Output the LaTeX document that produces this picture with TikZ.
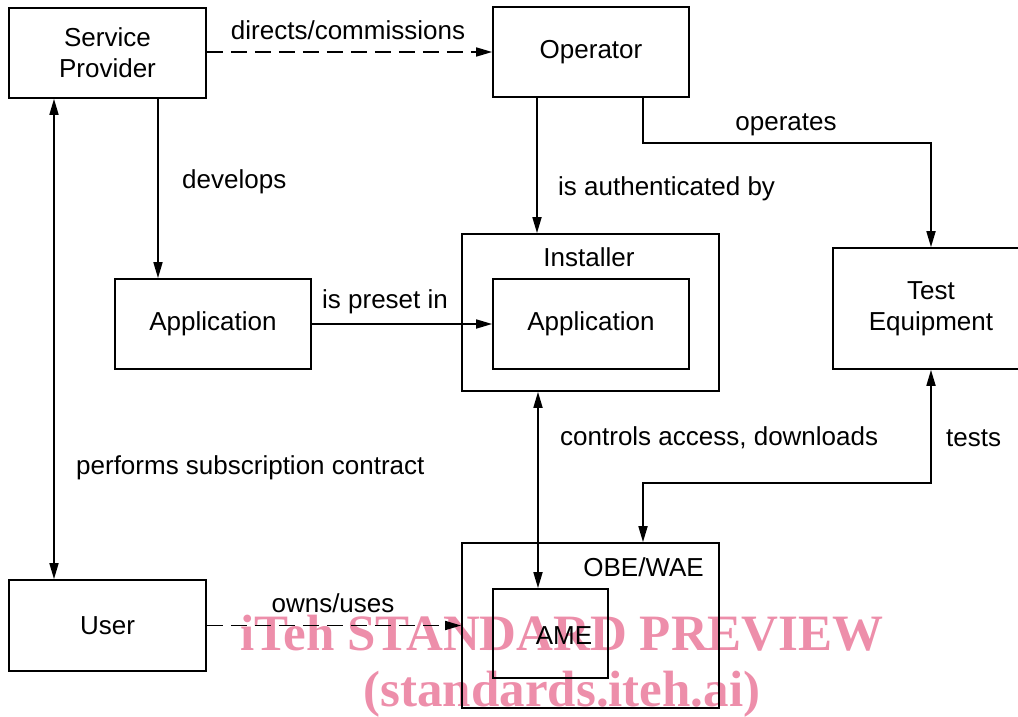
\documentclass[tikz,border=0pt]{standalone}
\usepackage{fontspec}
\setmainfont{Liberation Sans}
\newfontfamily\wmfont{Liberation Serif}
\usetikzlibrary{arrows.meta}
\definecolor{wmpink}{RGB}{237,142,170}
\tikzset{
  box/.style={draw, line width=1.7pt, inner sep=0pt, align=center, font=\fontsize{26}{31}\selectfont},
  lbl/.style={inner sep=0pt, font=\fontsize{26}{31}\selectfont},
  conn/.style={line width=1.7pt, -{Triangle[length=16pt,width=9pt]}},
  conn2/.style={line width=1.7pt, {Triangle[length=16pt,width=9pt]}-{Triangle[length=16pt,width=9pt]}},
  dconn/.style={conn, dash pattern=on 16pt off 8pt},
  wm/.style={inner sep=0pt, text=wmpink, font=\wmfont\bfseries\fontsize{51}{51}\selectfont}
}
\begin{document}
\begin{tikzpicture}[x=1pt,y=-1pt]
\useasboundingbox (0,0) rectangle (1018,717);
% watermark (behind)
\node[wm, anchor=base] (wm1) at (562,650) {iTeh STANDARD PREVIEW};
\node[wm, anchor=base] (wm2) at (562,706) {(standards.iteh.ai)};
% boxes
\node[box, minimum width=197pt, minimum height=90pt] (sp) at (107.5,53) {Service\\Provider};
\node[box, minimum width=196pt, minimum height=90pt] (op) at (591,52) {Operator};
\node[box, minimum width=196pt, minimum height=90pt] (app) at (213,324) {Application};
\node[box, minimum width=257pt, minimum height=157pt] (inst) at (590.5,312.5) {};
\node[box, minimum width=196pt, minimum height=90pt] (iapp) at (591,324) {Application};
\node[box, minimum width=196pt, minimum height=121pt] (te) at (931,308.5) {Test\\Equipment};
\node[box, minimum width=197pt, minimum height=91pt] (user) at (107.5,625.5) {User};
\node[box, minimum width=257pt, minimum height=165pt] (obe) at (590.5,625.5) {};
\node[box, minimum width=115pt, minimum height=89pt] (ame) at (550.5,633.5) {};
% box titles
\node[lbl, anchor=base] (instl) at (589,266) {Installer};
\node[lbl, anchor=base east] (obel) at (704,576) {OBE/WAE};
\node[lbl, anchor=base] (amel) at (564,644) {AME};
% helper coordinates
\coordinate (k54) at (54,0);
\coordinate (k158) at (158,0);
\coordinate (k537) at (537,0);
\coordinate (k538) at (538,0);
\coordinate (b1) at (643,143);
\coordinate (b2) at (643,483);
% connectors
\draw[dconn] (sp.east |- op.west) -- (op.west);
\draw[conn] (sp.south -| k158) -- (app.north -| k158);
\draw[conn2] (sp.south -| k54) -- (user.north -| k54);
\draw[conn] (op.south -| k537) -- (inst.north -| k537);
\draw[conn] (op.south -| b1) -- (b1) -| (te.north);
\draw[conn] (app.east) -- (iapp.west);
\draw[conn2] (inst.south -| k538) -- (ame.north -| k538);
\draw[conn2] (te.south) |- (b2) -- (obe.north -| b2);
\draw[dconn] (user.east) -- (obe.west);
% connector labels
\node[lbl, anchor=base] (l1) at (348,40) {directs/commissions};
\node[lbl, anchor=base] (l2) at (786,130) {operates};
\node[lbl, anchor=base west] (l3) at (182,188) {develops};
\node[lbl, anchor=base west] (l4) at (558,195) {is authenticated by};
\node[lbl, anchor=base west] (l5) at (322,308) {is preset in};
\node[lbl, anchor=base west] (l6) at (560,445) {controls access, downloads};
\node[lbl, anchor=base west] (l7) at (946,446) {tests};
\node[lbl, anchor=base west] (l8) at (76,474) {performs subscription contract};
\node[lbl, anchor=base] (l9) at (333,612) {owns/uses};
\end{tikzpicture}
\end{document}
